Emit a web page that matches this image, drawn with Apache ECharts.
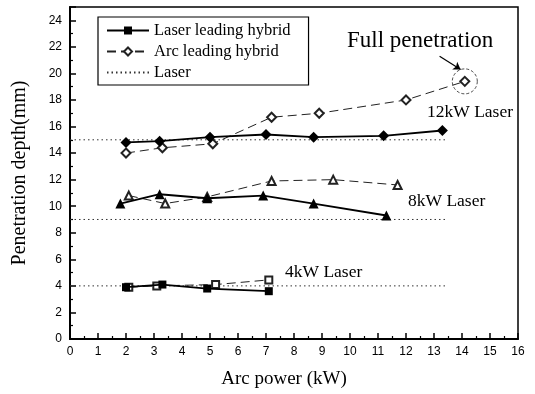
<!DOCTYPE html>
<html><head><meta charset="utf-8">
<script src="https://cdn.jsdelivr.net/npm/echarts@6/dist/echarts.min.js"></script>
<style>html,body{margin:0;padding:0;background:#fff}#c{width:535px;height:394px}</style>
</head><body><div id="c"></div>
<script>
// ---- data ----
const ll12X = [2.0, 3.2, 5.0, 7.0, 8.7, 11.2, 13.3];
const ll12Y = [14.8, 14.9, 15.2, 15.4, 15.2, 15.3, 15.7];
const al12X = [2.0, 3.3, 5.1, 7.2, 8.9, 12.0, 14.1];
const al12Y = [14.0, 14.4, 14.7, 16.7, 17.0, 18.0, 19.4];
const ll8X = [1.8, 3.2, 4.9, 6.9, 8.7, 11.3];
const ll8Y = [10.2, 10.9, 10.6, 10.8, 10.2, 9.3];
const al8X = [2.1, 3.4, 4.9, 7.2, 9.4, 11.7];
const al8Y = [10.8, 10.2, 10.7, 11.9, 12.0, 11.6];
const ll4X = [2.0, 3.3, 4.9, 7.1];
const ll4Y = [3.9, 4.1, 3.8, 3.6];
const al4X = [2.1, 3.1, 5.2, 7.1];
const al4Y = [3.9, 4.0, 4.1, 4.45];
const laserX = [0, 13.4];
const laser12 = 15, laser8 = 9, laser4 = 4;
const fullPen = [14.1, 19.4];
const arrowFrom = [13.2, 21.3], arrowTo = [13.95, 20.3];
const xTicks = {min: 0, max: 16, interval: 1};
const yTicks = {min: 0, max: 25, interval: 2};
const labels = ['Full penetration', '12kW Laser', '8kW Laser', '4kW Laser'];

const zip = (xs, ys) => xs.map((x, i) => [x, ys[i]]);
const serif = 'Liberation Serif';
const LL = 'Laser leading hybrid', AL = 'Arc leading hybrid', LS = 'Laser';

function llSeries(xs, ys, sym, size) {
  return {name: LL, type: 'line', data: zip(xs, ys), symbol: sym, symbolSize: size,
    lineStyle: {color: '#000', width: 1.8}, itemStyle: {color: '#000'}, z: 5};
}
function alSeries(xs, ys, sym, size) {
  return {name: AL, type: 'line', data: zip(xs, ys), symbol: sym, symbolSize: size,
    lineStyle: {color: '#222', width: 1, type: [9, 5]},
    itemStyle: {color: '#222', borderWidth: 1}, z: 4};
}
function laserSeries(y) {
  return {name: LS, type: 'line', data: laserX.map(x => [x, y]), symbol: 'none',
    lineStyle: {color: '#333', width: 1, type: [1.5, 3]}, z: 2};
}

const chart = echarts.init(document.getElementById('c'), null, {renderer: 'canvas'});
chart.setOption({
  animation: false,
  backgroundColor: '#fff',
  grid: {left: 70, right: 17, top: 7, bottom: 55, show: true, borderColor: '#000', borderWidth: 1.5, backgroundColor: 'transparent'},
  legend: {
    data: [LL, AL, {name: LS, itemStyle: {opacity: 0}}], orient: 'vertical', left: 98, top: 17,
    backgroundColor: '#fff', borderColor: '#000', borderWidth: 1.2,
    padding: [5, 18, 4, 8], itemGap: 4, itemWidth: 42, itemHeight: 10,
    textStyle: {fontFamily: serif, fontSize: 16.5, color: '#000'}
  },
  xAxis: {
    type: 'value', min: xTicks.min, max: xTicks.max, interval: xTicks.interval,
    name: 'Arc power (kW)', nameLocation: 'middle', nameGap: 31,
    nameTextStyle: {fontFamily: serif, fontSize: 19, color: '#000', padding: [0, 20, 0, 0]},
    axisLine: {lineStyle: {color: '#000', width: 2}},
    axisTick: {inside: true, length: 6, lineStyle: {color: '#000', width: 1.5}},
    minorTick: {show: true, splitNumber: 2, length: 3, lineStyle: {color: '#000', width: 1.2}},
    axisLabel: {fontFamily: 'Liberation Sans', fontSize: 12, color: '#000', margin: 7},
    splitLine: {show: false}
  },
  yAxis: {
    type: 'value', min: yTicks.min, max: yTicks.max, interval: yTicks.interval,
    name: 'Penetration depth(mm)', nameLocation: 'middle', nameGap: 40,
    nameTextStyle: {fontFamily: serif, fontSize: 20, color: '#000'},
    axisLine: {lineStyle: {color: '#000', width: 2}},
    axisTick: {inside: true, length: 6, lineStyle: {color: '#000', width: 1.5}},
    minorTick: {show: true, splitNumber: 2, length: 3, lineStyle: {color: '#000', width: 1.2}},
    axisLabel: {fontFamily: 'Liberation Sans', fontSize: 12, color: '#000', margin: 8, showMaxLabel: false,
      formatter: v => (v % 2 === 0 ? String(v) : '')},
    splitLine: {show: false}
  },
  series: [
    llSeries(ll4X, ll4Y, 'rect', 8),
    llSeries(ll8X, ll8Y, 'triangle', 10),
    llSeries(ll12X, ll12Y, 'diamond', 11),
    alSeries(al12X, al12Y, 'emptyDiamond', 9),
    alSeries(al8X, al8Y, 'emptyTriangle', 8),
    alSeries(al4X, al4Y, 'emptyRect', 7),
    laserSeries(laser12), laserSeries(laser8), laserSeries(laser4),
    {name: 'full', type: 'scatter', data: [fullPen], symbol: 'circle', symbolSize: 25,
      itemStyle: {color: 'transparent', borderColor: '#222', borderWidth: 1, borderType: [3, 2]}, z: 6,
      markLine: {silent: true, symbol: ['none', 'arrow'], symbolSize: 7,
        lineStyle: {color: '#000', width: 1.2, type: 'solid'}, label: {show: false},
        data: [[{coord: arrowFrom}, {coord: arrowTo}]]}}
  ],
  graphic: [
    {type: 'text', left: 347, top: 29, style: {text: labels[0], font: '23px "Liberation Serif"', fill: '#000'}},
    {type: 'text', left: 427, top: 103, style: {text: labels[1], font: '17.5px "Liberation Serif"', fill: '#000'}},
    {type: 'text', left: 408, top: 192, style: {text: labels[2], font: '17.5px "Liberation Serif"', fill: '#000'}},
    {type: 'text', left: 285, top: 263, style: {text: labels[3], font: '17.5px "Liberation Serif"', fill: '#000'}}
  ]
});
</script>
</body></html>
